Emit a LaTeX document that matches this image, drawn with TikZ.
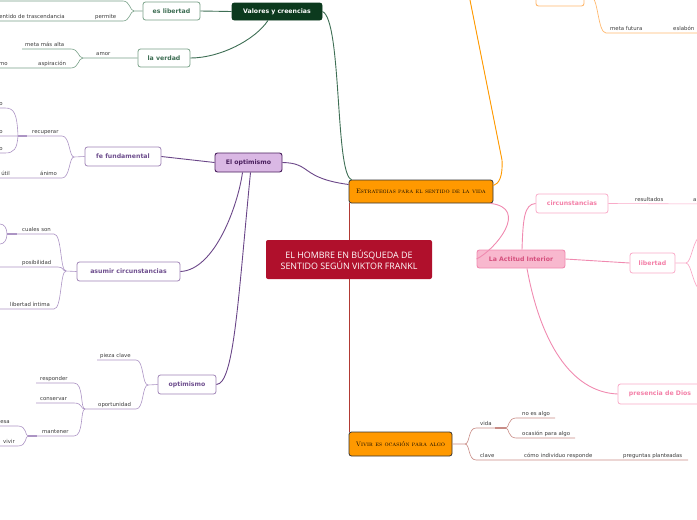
\documentclass[tikz,border=0pt]{standalone}
\usepackage{fontspec}
\newfontfamily\mapfont{DejaVu Sans}
\newfontfamily\titlefont{Open Sans}
\usepackage{tikz}
\usetikzlibrary{positioning, backgrounds}
\definecolor{titlered}{RGB}{176, 16, 44}
\definecolor{brick}{RGB}{178, 58, 52}
\definecolor{estorange}{RGB}{255, 153, 0}
\definecolor{lightorange}{RGB}{255, 184, 110}
\definecolor{valgreen}{RGB}{12, 58, 30}
\definecolor{midgreen}{RGB}{62, 110, 84}
\definecolor{leafgreen}{RGB}{120, 160, 135}
\definecolor{optfill}{RGB}{218, 184, 228}
\definecolor{optdark}{RGB}{74, 32, 94}
\definecolor{optline}{RGB}{106, 70, 136}
\definecolor{optsub}{RGB}{110, 78, 142}
\definecolor{optborder}{RGB}{158, 130, 182}
\definecolor{optleaf}{RGB}{172, 148, 196}
\definecolor{actfill}{RGB}{248, 184, 206}
\definecolor{actdark}{RGB}{214, 80, 126}
\definecolor{actline}{RGB}{240, 138, 176}
\definecolor{actsub}{RGB}{244, 128, 168}
\definecolor{actborder}{RGB}{249, 170, 200}
\definecolor{vivline}{RGB}{200, 140, 134}
\definecolor{leafgrey}{RGB}{60, 60, 60}

\tikzset{
  topicbox/.style={draw, rounded corners=2.5pt, line width=0.9pt, inner sep=0pt, font=\mapfont\bfseries\fontsize{6.2}{7}\selectfont},
  subbox/.style={topicbox, fill=white, line width=0.8pt},
  orangebox/.style={draw=black!80, fill=estorange, rounded corners=2.5pt, line width=0.8pt, inner sep=0pt, font=\rmfamily\scshape\fontsize{6.5}{7}\selectfont},
  leaf/.style={inner sep=0pt, font=\mapfont\fontsize{5.4}{6}\selectfont, text=leafgrey},
  stub/.style={line width=1.8pt}
}

\begin{document}
\begin{tikzpicture}[x=1pt, y=-1pt]
    \useasboundingbox (0,0) rectangle (697,520);
    \clip (0,0) rectangle (697,520);

    % Central topic and main branches
    \node [fill=titlered, rounded corners=2pt, minimum width=166pt, minimum height=39pt, inner sep=0pt, align=center, text=white, font=\titlefont\fontsize{8.9}{11}\selectfont] (hombre) at (349,259.5) {EL HOMBRE EN BÚSQUEDA DE\\SENTIDO SEGÚN VIKTOR FRANKL};
    \node [orangebox, minimum width=144pt, minimum height=23pt] (estrategias) at (421,191.5) {Estrategias para el sentido de la vida};
    \node [orangebox, minimum width=103pt, minimum height=24pt] (vivirocasion) at (400.5,444) {Vivir es ocasión para algo};
    \begin{pgfonlayer}{background}
        \draw [brick, line width=1.2pt] ([xshift=1pt]estrategias.south west) -- ([xshift=1pt]estrategias.south west |- hombre.north);
        \draw [brick, line width=1.2pt] ([xshift=1pt]vivirocasion.north west) -- ([xshift=1pt]vivirocasion.north west |- hombre.south);
    \end{pgfonlayer}
    \node [draw=lightorange, fill=white, rounded corners=2.5pt, line width=0.9pt, minimum width=48pt, minimum height=16pt] (topbox) at (560,-2) {};
    \coordinate (offtop) at (466,-20);
    \draw [estorange, line width=0.9pt] ([yshift=6pt]estrategias.east) .. controls (499,184) and (503,176) .. (502,160) -- (offtop);

    % Valores y creencias
    \node [topicbox, draw=valgreen, fill=valgreen, text=white, minimum width=90pt, minimum height=17pt] (valores) at (277,11.5) {Valores y creencias};
    \node [subbox, draw=leafgreen, text=midgreen, minimum width=57pt, minimum height=18pt] (eslibertad) at (171.5,11) {es libertad};
    \node [subbox, draw=leafgreen, text=midgreen, minimum width=52pt, minimum height=18pt] (laverdad) at (164,58) {la verdad};
    \draw [midgreen, line width=0.9pt] (valores.east) .. controls (342,20) and (335,175) .. ([xshift=3pt]estrategias.north west);
    \draw [midgreen, line width=0.9pt] (valores.west) -- (eslibertad.east);
    \draw [midgreen, line width=0.9pt] ([xshift=-9pt]valores.south) .. controls (255,40) and (220,58) .. (laverdad.east);
    \draw [leafgreen, line width=0.6pt] (eslibertad.west) -- (134,11) .. controls (130,11) and (130,1) .. (123,1) -- (0,1);
    \draw [leafgreen, line width=0.6pt] (134,11) .. controls (130,11) and (130,21) .. (123,21) -- (0,21);
    \node [leaf, anchor=base east] (sentido) at (65,18.8) {sentido de trascendancia};
    \node [leaf, anchor=base west] (permite) at (95,18.8) {permite};
    \draw [leafgreen, line width=0.6pt] (laverdad.west) -- (83,58) .. controls (78,58) and (79,49) .. (71,49) -- (22,49);
    \draw [leafgreen, line width=0.6pt] (83,58) .. controls (78,58) and (79,68) .. (71,68) -- (0,68);
    \node [leaf, anchor=base west] (amor) at (96,55.8) {amor};
    \node [leaf, anchor=base west] (metaalta) at (25,46.8) {meta más alta};
    \node [leaf, anchor=base west] (aspiracion) at (38,65.8) {aspiración};
    \node [leaf, anchor=base east] (mo) at (8,65.8) {mo};

    % El optimismo
    \node [topicbox, draw=optdark, fill=optfill, text=optdark, minimum width=67pt, minimum height=19pt] (elopt) at (248.5,162.5) {El optimismo};
    \node [subbox, draw=optborder, text=optsub, minimum width=76pt, minimum height=19pt] (fefund) at (123,156.5) {fe fundamental};
    \node [subbox, draw=optborder, text=optsub, minimum width=103pt, minimum height=19pt] (asumir) at (128.5,271.5) {asumir circunstancias};
    \node [subbox, draw=optborder, text=optsub, minimum width=58pt, minimum height=19pt] (optim) at (187,384.5) {optimismo};
    \draw [optline, line width=0.9pt] (elopt.east) .. controls (312,163) and (300,178) .. ([yshift=7pt]estrategias.west);
    \draw [optline, line width=0.9pt] (elopt.west) -- (fefund.east);
    \draw [optline, line width=0.9pt] ([xshift=-6pt]elopt.south) .. controls (238,205) and (215,270) .. (asumir.east);
    \draw [optline, line width=0.9pt] ([xshift=2pt]elopt.south) .. controls (238,300) and (234,384) .. (optim.east);

    \draw [optleaf, line width=0.6pt] (fefund.west) -- (74,157) .. controls (69,157) and (70,136) .. (62,136) -- (0,136);
    \draw [optleaf, line width=0.6pt] (74,157) .. controls (69,157) and (70,178) .. (62,178) -- (0,178);
    \node [leaf, anchor=base west] (recuperar) at (32,133.5) {recuperar};
    \node [leaf, anchor=base west] (animo) at (40,175.8) {ánimo};
    \node [leaf, anchor=base east] (util) at (10,175.8) {útil};
    \draw [optleaf, stub] (18,136) -- (27,136);
    \draw [optleaf, line width=0.6pt] (18,136) .. controls (17,113) and (14,108) .. (5,108) -- (0,108);
    \draw [optleaf, line width=0.6pt] (18,136) .. controls (17,149) and (14,153) .. (5,153) -- (0,153);
    \node [leaf, anchor=base east] (o1) at (3,105.8) {o};
    \node [leaf, anchor=base east] (o2) at (3,133.5) {o};
    \node [leaf, anchor=base east] (o3) at (3,150.8) {o};

    \draw [optleaf, line width=0.6pt] (asumir.west) -- (66,271) .. controls (60,271) and (62,234) .. (54,234) -- (17,234);
    \draw [optleaf, line width=0.6pt] (66,271) .. controls (62,271) and (64,267) .. (58,267) -- (0,267);
    \draw [optleaf, line width=0.6pt] (66,271) .. controls (60,271) and (62,309) .. (54,309) -- (0,309);
    \node [leaf, anchor=base west] (cuales) at (22,231.8) {cuales son};
    \node [leaf, anchor=base west] (posibilidad) at (22,264.8) {posibilidad};
    \node [leaf, anchor=base west] (libintima) at (10,306.8) {libertad íntima};
    \draw [optleaf, stub] (7,234) -- (17,234);
    \draw [optleaf, line width=0.6pt] (7,234) .. controls (7,228) and (4,224) .. (0,224);
    \draw [optleaf, line width=0.6pt] (7,234) .. controls (7,240) and (4,244) .. (0,244);

    \draw [optleaf, line width=0.6pt] (optim.west) -- (148,385) .. controls (142,385) and (144,360) .. (136,360) -- (97,360);
    \draw [optleaf, line width=0.6pt] (148,385) .. controls (142,385) and (144,409) .. (136,409) -- (85,409);
    \node [leaf, anchor=base west] (pieza) at (100,357.8) {pieza clave};
    \node [leaf, anchor=base west] (oportunidad) at (98,406.8) {oportunidad};
    \draw [optleaf, line width=0.6pt] (85,409) .. controls (80,409) and (84,383) .. (74,383) -- (36,383);
    \draw [optleaf, line width=0.6pt] (85,409) .. controls (80,409) and (83,403) .. (74,403) -- (36,403);
    \draw [optleaf, line width=0.6pt] (85,409) .. controls (80,409) and (84,436) .. (74,436) -- (37,436);
    \node [leaf, anchor=base west] (responder) at (40,380.8) {responder};
    \node [leaf, anchor=base west] (conservar) at (40,400.8) {conservar};
    \node [leaf, anchor=base west] (mantener) at (42,433.8) {mantener};
    \draw [optleaf, stub] (28,436) -- (37,436);
    \draw [optleaf, line width=0.6pt] (28,436) .. controls (25,436) and (27,426) .. (18,426) -- (0,426);
    \draw [optleaf, line width=0.6pt] (28,436) .. controls (25,436) and (27,446) .. (18,446) -- (0,446);
    \node [leaf, anchor=base east] (esa) at (10,423.8) {esa};
    \node [leaf, anchor=base east] (vivirleaf) at (15,443.8) {vivir};

    % La Actitud Interior
    \node [topicbox, draw=actline, fill=actfill, text=actdark, minimum width=88pt, minimum height=18pt] (actitud) at (521,259) {La Actitud Interior};
    \node [subbox, draw=actborder, text=actsub, minimum width=72pt, minimum height=19pt] (circ) at (572,203.5) {circunstancias};
    \node [subbox, draw=actborder, text=actsub, minimum width=45pt, minimum height=20pt] (libertad) at (652.5,263) {libertad};
    \node [subbox, draw=actborder, text=actsub, minimum width=84pt, minimum height=20pt] (presencia) at (660,394) {presencia de Dios};
    \draw [actline, line width=0.9pt] ([xshift=-3pt]estrategias.south east) .. controls (530,208) and (495,250) .. (actitud.west);
    \draw [actline, line width=0.9pt] ([xshift=1pt]actitud.north) .. controls (523,220) and (524,204) .. (circ.west);
    \draw [actline, line width=0.9pt] (actitud.east) -- (libertad.west);
    \draw [actline, line width=0.9pt] ([xshift=6pt]actitud.south) .. controls (540,340) and (570,392) .. (presencia.west);
    \draw [actborder, line width=0.6pt] (circ.east) -- (710,204);
    \node [leaf, anchor=base west] (resultados) at (635,201.8) {resultados};
    \node [leaf, anchor=base west] (aleaf) at (693,201.8) {a};
    \draw [actborder, line width=0.7pt] (libertad.east) -- (686,263) .. controls (692,262) and (692,240) .. (702,234);
    \draw [actborder, line width=0.7pt] (686,263) .. controls (692,264) and (692,286) .. (702,292);

    % Upper orange branch
    \draw [lightorange, line width=0.7pt] (topbox.east) -- (592,-2) .. controls (598,-2) and (598,33) .. (606,33) -- (710,33);
    \node [leaf, anchor=base west] (metafutura) at (610,30.8) {meta futura};
    \node [leaf, anchor=base west] (eslabon) at (673,30.8) {eslabón};

    % Vivir es ocasion para algo
    \draw [vivline, line width=0.6pt] (vivirocasion.east) -- (465,444) .. controls (470,444) and (468,428) .. (476,428) -- (495,428);
    \draw [vivline, line width=0.6pt] (465,444) .. controls (470,444) and (468,460) .. (476,460) -- (688,460);
    \draw [vivline, stub] (495,428) -- (506,428);
    \draw [vivline, line width=0.6pt] (506,428) .. controls (509,428) and (508,418) .. (516,418) -- (555,418);
    \draw [vivline, line width=0.6pt] (506,428) .. controls (509,428) and (508,438) .. (516,438) -- (575,438);
    \node [leaf, anchor=base west] (vida) at (480,425.8) {vida};
    \node [leaf, anchor=base west] (noesalgo) at (522,415.8) {no es algo};
    \node [leaf, anchor=base west] (ocasion) at (522,435.8) {ocasión para algo};
    \node [leaf, anchor=base west] (clave) at (480,457.8) {clave};
    \node [leaf, anchor=base west] (como) at (524,457.8) {cómo individuo responde};
    \node [leaf, anchor=base west] (preguntas) at (623,457.8) {preguntas planteadas};
\end{tikzpicture}
\end{document}
